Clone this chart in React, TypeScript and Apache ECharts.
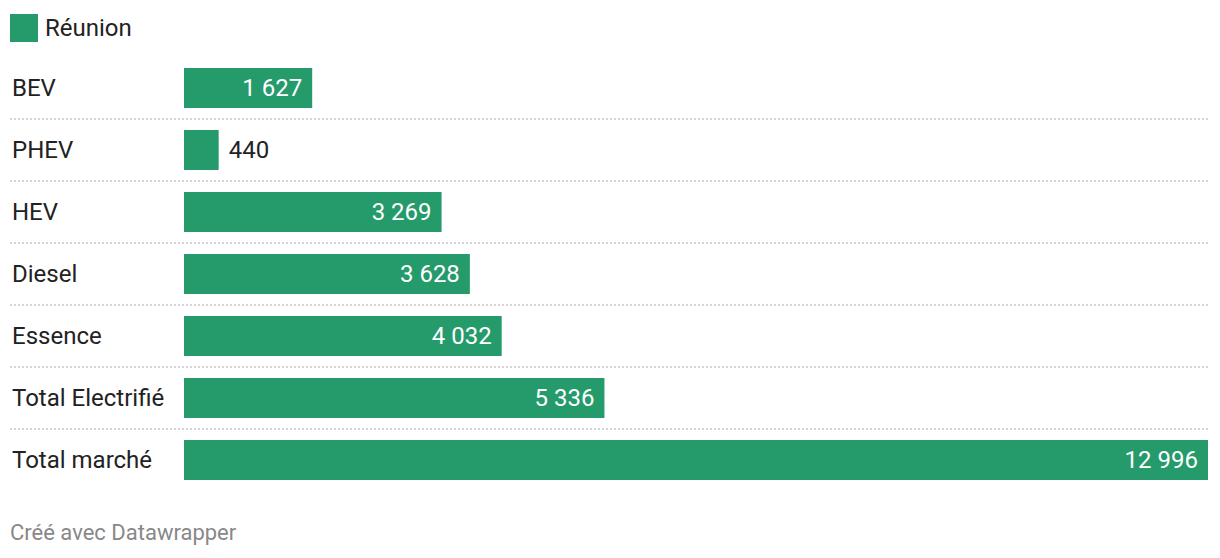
import React, { useEffect, useRef } from "react";
import * as echarts from "echarts";

const categories = ["BEV", "PHEV", "HEV", "Diesel", "Essence", "Total Electrifié", "Total marché"];
const values = [1627, 440, 3269, 3628, 4032, 5336, 12996];
const seriesName = "Réunion";
const footerText = "Créé avec Datawrapper";

const GREEN = "#259a6b";
const TEXT = "#222222";
const FONT = "Roboto, 'Noto Sans', sans-serif";

const fmt = (v: number) => String(v).replace(/\B(?=(\d{3})+(?!\d))/g, " ");

export default function App() {
  const ref = useRef<HTMLDivElement>(null);

  useEffect(() => {
    document.body.style.margin = "0";
    if (!ref.current) return;
    const chart = echarts.init(ref.current, undefined, { renderer: "svg" });

    const gridLeft = 10;
    const gridRight = 12;
    const labelColumn = 174; // px reserved for category names inside grid
    const width = 1220;
    const plotWidth = width - gridLeft - gridRight - labelColumn;
    const maxVal = Math.max(...values);
    const minVal = -(maxVal * labelColumn) / plotWidth;

    const data = values.map((v) => {
      const outside = v < 1000;
      return {
        value: v,
        label: outside
          ? { position: "right", color: TEXT, distance: 10 }
          : { position: "insideRight", color: "#ffffff", distance: 10 },
      };
    });

    chart.setOption({
      animation: false,
      textStyle: { fontFamily: FONT },
      legend: {
        left: 10,
        top: 14,
        padding: 0,
        icon: "rect",
        itemWidth: 28,
        itemHeight: 28,
        selectedMode: false,
        textStyle: { fontSize: 24, color: TEXT, fontFamily: FONT, padding: [0, 0, 0, 2] },
        data: [seriesName],
      },
      grid: { left: gridLeft, right: gridRight, top: 57, height: 434, containLabel: false },
      xAxis: {
        type: "value",
        min: minVal,
        max: maxVal,
        show: false,
      },
      yAxis: {
        type: "category",
        data: categories,
        inverse: true,
        axisLine: { show: false },
        axisTick: { show: false },
        axisLabel: {
          inside: true,
          margin: 2,
          fontSize: 24,
          color: TEXT,
          fontFamily: FONT,
        },
        splitLine: {
          show: true,
          showMinLine: false,
          showMaxLine: false,
          lineStyle: { color: "#c8c8c8", width: 1.5, type: [2, 2] },
        },
      },
      series: [
        {
          name: seriesName,
          type: "bar",
          data,
          barWidth: 40,
          itemStyle: { color: GREEN },
          label: {
            show: true,
            fontSize: 24,
            fontFamily: FONT,
            formatter: (p: any) => fmt(p.value),
          },
        },
      ],
      graphic: [
        {
          type: "text",
          left: 10,
          top: 521,
          style: { text: footerText, fontSize: 22, fill: "#888888", fontFamily: FONT },
        },
      ],
    });

    return () => chart.dispose();
  }, []);

  return <div ref={ref} style={{ width: 1220, height: 558 }} />;
}
